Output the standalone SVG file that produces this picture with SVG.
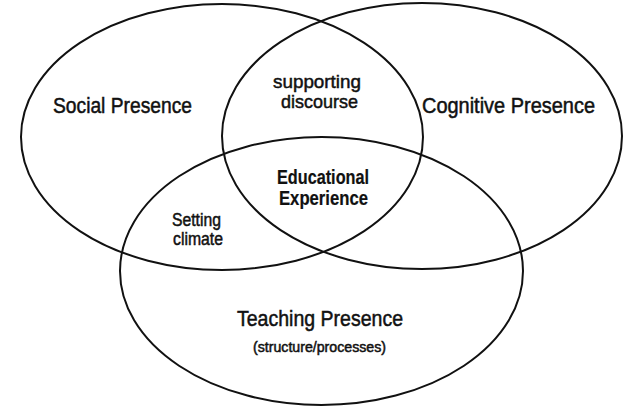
<svg xmlns="http://www.w3.org/2000/svg" width="630" height="416" viewBox="0 0 630 416">
<style>
.e{fill:none;stroke:#111;stroke-width:2}
.t{font-family:"Liberation Sans",Arial,sans-serif;fill:#111;stroke:#111;stroke-width:0.5;text-anchor:start}
.b{font-weight:bold;stroke-width:0.2}
</style>
<rect width="630" height="416" fill="#fff"/>
<g id="social"><ellipse class="e" cx="222" cy="137" rx="201" ry="133"/><text class="t" x="53" y="113" font-size="22" textLength="139" lengthAdjust="spacingAndGlyphs">Social Presence</text></g>
<g id="cognitive"><ellipse class="e" cx="422" cy="136" rx="200" ry="133"/><text class="t" x="422" y="113" font-size="22" textLength="173" lengthAdjust="spacingAndGlyphs">Cognitive Presence</text></g>
<g id="teaching"><ellipse class="e" cx="321.5" cy="271" rx="201.5" ry="134"/><text class="t" x="237" y="326" font-size="22" textLength="166" lengthAdjust="spacingAndGlyphs">Teaching Presence</text><text class="t" x="253" y="352" font-size="14" textLength="133" lengthAdjust="spacingAndGlyphs">(structure/processes)</text></g>
<g id="supporting"><text class="t" x="273" y="88" font-size="19" textLength="88" lengthAdjust="spacingAndGlyphs">supporting</text><text class="t" x="281" y="108" font-size="19" textLength="77" lengthAdjust="spacingAndGlyphs">discourse</text></g>
<g id="educational"><text class="t b" x="277" y="184" font-size="20" textLength="92" lengthAdjust="spacingAndGlyphs">Educational</text><text class="t b" x="279" y="205" font-size="20" textLength="89" lengthAdjust="spacingAndGlyphs">Experience</text></g>
<g id="setting"><text class="t" x="172" y="226" font-size="18" textLength="49" lengthAdjust="spacingAndGlyphs">Setting</text><text class="t" x="173" y="245" font-size="18" textLength="50" lengthAdjust="spacingAndGlyphs">climate</text></g>
<g id="connectors"/>
</svg>
